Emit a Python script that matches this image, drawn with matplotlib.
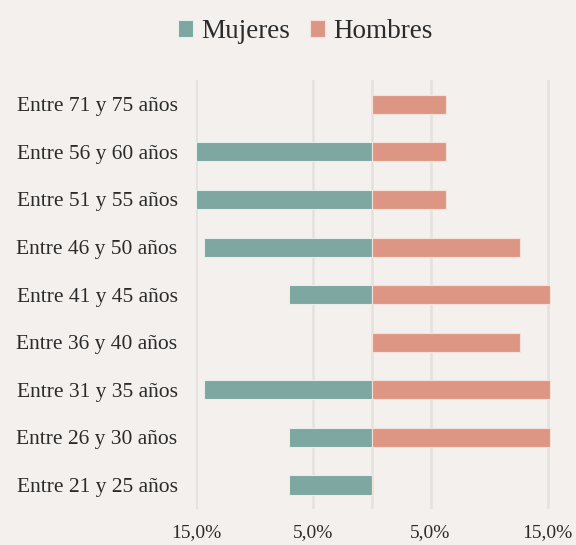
import matplotlib.pyplot as plt
import numpy as np

# age groups, bottom to top
categories = ["Entre 21 y 25 años", "Entre 26 y 30 años", "Entre 31 y 35 años",
              "Entre 36 y 40 años", "Entre 41 y 45 años", "Entre 46 y 50 años",
              "Entre 51 y 55 años", "Entre 56 y 60 años", "Entre 71 y 75 años"]
mujeres = [7.1, 7.1, 14.3, 0, 7.1, 14.3, 15.0, 15.0, 0]
hombres = [0, 15.2, 15.2, 12.6, 15.2, 12.6, 6.3, 6.3, 6.3]
tick_values = [-15, -5, 0, 5, 15]
tick_labels = ["15,0%", "5,0%", "", "5,0%", "15,0%"]

bg = "#F4F0ED"
teal = "#7DA7A0"
salmon = "#DE9684"
txt = "#2B2B2B"

plt.rcParams['font.family'] = ['Liberation Serif', 'DejaVu Serif']

fig = plt.figure(figsize=(5.76, 5.45), dpi=100, facecolor=bg)
ax = fig.add_axes([0.3396, 0.0664, 0.6163, 0.786], facecolor=bg)

y = np.arange(len(categories))
ax.barh(y, [-v for v in mujeres], height=0.4, color=teal, edgecolor="#E8EEEC",
        linewidth=0.8, label="Mujeres", zorder=3)
ax.barh(y, hombres, height=0.4, color=salmon, edgecolor="#F3E2DC",
        linewidth=0.8, label="Hombres", zorder=3)

ax.set_xlim(-15.05, 15.25)
ax.set_ylim(-0.5, len(categories) - 0.5)
ax.set_yticks(y)
ax.set_yticklabels(categories, fontsize=15.5, color=txt)
ax.set_xticks(tick_values)
ax.set_xticklabels(tick_labels, fontsize=14, color=txt)
ax.tick_params(axis="y", length=0, pad=13)
ax.tick_params(axis="x", length=0, pad=11)
ax.grid(axis="x", color="#E4E1DE", linewidth=1.8, zorder=0)
for s in ax.spines.values():
    s.set_visible(False)

fig.legend(loc="upper center", bbox_to_anchor=(0.53, 1.01), ncol=2, frameon=False,
           fontsize=19.5, handlelength=0.56, handleheight=0.56, handletextpad=0.3,
           columnspacing=0.75, labelcolor=txt)

plt.savefig("out.png", dpi=100, facecolor=bg)
